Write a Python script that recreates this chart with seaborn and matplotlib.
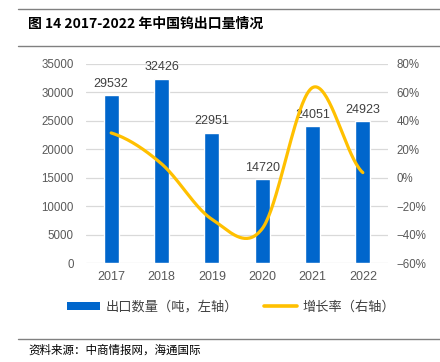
import numpy as np
import pandas as pd
import seaborn as sns
import matplotlib
matplotlib.use("Agg")
import matplotlib.pyplot as plt
from matplotlib.lines import Line2D
from matplotlib.patches import Patch
from matplotlib.ticker import FuncFormatter, MultipleLocator

# data
years = ["2017", "2018", "2019", "2020", "2021", "2022"]
export_tons = [29532, 32426, 22951, 14720, 24051, 24923]
growth_pct = [31.5, 9.8, -29.2, -35.9, 63.4, 3.6]

CJK = ["Noto Sans CJK SC", "DejaVu Sans"]
NUM = ["Liberation Sans", "DejaVu Sans"]
BLUE = "#0066CC"
GOLD = "#FFC000"
GRAY = "#595959"


def smooth_curve(y, n=40):
    # Catmull-Rom smoothing, like the "smoothed line" option in office charts
    y = np.asarray(y, dtype=float)
    pts = np.concatenate([[y[0]], y, [y[-1]]])
    xs, ys = [], []
    for i in range(len(y) - 1):
        p0, p1, p2, p3 = pts[i], pts[i + 1], pts[i + 2], pts[i + 3]
        m1 = (p2 - p0) / 2.0
        m2 = (p3 - p1) / 2.0
        t = np.linspace(0, 1, n, endpoint=(i == len(y) - 2))
        h00 = 2 * t**3 - 3 * t**2 + 1
        h10 = t**3 - 2 * t**2 + t
        h01 = -2 * t**3 + 3 * t**2
        h11 = t**3 - t**2
        xs.append(i + t)
        ys.append(h00 * p1 + h10 * m1 + h01 * p2 + h11 * m2)
    return np.concatenate(xs), np.concatenate(ys)


sns.set_theme(style="white")
plt.rcParams["font.family"] = NUM
plt.rcParams["axes.unicode_minus"] = True

fig = plt.figure(figsize=(4.4, 3.62), dpi=100)
ax = fig.add_axes([86 / 440, 1 - 263 / 362, 302 / 440, 199 / 362])

df = pd.DataFrame({"year": years, "tons": export_tons})
sns.barplot(data=df, x="year", y="tons", color=BLUE, saturation=1, width=0.3, ax=ax)

ax.set_xlim(-0.5, 5.5)
ax.set_ylim(0, 35000)
ax.yaxis.set_major_locator(MultipleLocator(5000))
ax.grid(axis="y", color="#D9D9D9", linewidth=0.9)
ax.set_axisbelow(True)
ax.set_xlabel("")
ax.set_ylabel("")
for s in ax.spines.values():
    s.set_visible(False)
ax.tick_params(axis="y", length=0, pad=9, labelsize=8.3, labelcolor=GRAY)
ax.tick_params(axis="x", length=0, pad=6, labelsize=9, labelcolor=GRAY)

for i, v in enumerate(export_tons):
    ax.annotate(str(v), (i, v), xytext=(0, 4), textcoords="offset points",
                ha="center", va="bottom", fontsize=9, color="#404040",
                annotation_clip=False)

ax2 = ax.twinx()
sx, sy = smooth_curve(growth_pct)
sns.lineplot(x=sx, y=sy, color=GOLD, linewidth=2.3, ax=ax2, sort=False)
ax2.set_ylim(-60, 80)
ax2.yaxis.set_major_locator(MultipleLocator(20))
ax2.yaxis.set_major_formatter(FuncFormatter(lambda v, p: f"{v:.0f}%".replace("-", "\u2212")))
ax2.tick_params(axis="y", length=0, pad=6, labelsize=8.3, labelcolor=GRAY)
for s in ax2.spines.values():
    s.set_visible(False)
ax2.grid(False)
ax2.set_ylabel("")

handles = [Patch(facecolor=BLUE, edgecolor="none"),
           Line2D([0], [0], color=GOLD, linewidth=2.6)]
labels = ["出口数量（吨，左轴）", "增长率（右轴）"]
fig.legend(handles, labels, loc="center", bbox_to_anchor=(0.525, 0.152), ncol=2,
           frameon=False, handlelength=2.5, handleheight=0.55, handletextpad=0.4,
           columnspacing=2.0, prop={"family": CJK, "size": 9.5}, labelcolor="#404040")

# title and source with rules
fig.text(28 / 440, 1 - 24 / 362, "图 14 2017-2022 年中国钨出口量情况", family=CJK,
         fontsize=10, fontweight="bold", va="center", ha="left", color="#000000")
fig.text(28 / 440, 1 - 350 / 362, "资料来源：中商情报网，海通国际", family=CJK,
         fontsize=8.3, va="center", ha="left", color="#000000")
for yy in [9, 46, 339]:
    fig.add_artist(Line2D([18 / 440, 1], [1 - yy / 362, 1 - yy / 362],
                          transform=fig.transFigure, color="#808080", linewidth=1.0))

fig.savefig("out.png", dpi=100)
